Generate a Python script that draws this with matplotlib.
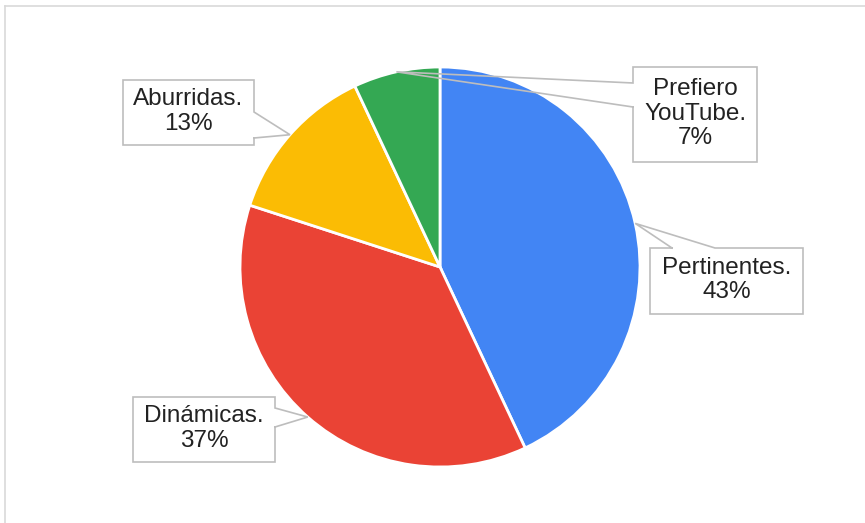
import numpy as np
import matplotlib
matplotlib.use("Agg")
import matplotlib.pyplot as plt
from matplotlib.patches import Rectangle

plt.rcParams['font.family'] = ['Liberation Sans', 'DejaVu Sans']

# Survey answers
categories = ['Pertinentes.', 'Dinámicas.', 'Aburridas.', 'Prefiero\nYouTube.']
values = [43, 37, 13, 7]
colors = ['#4285F4', '#EA4335', '#FBBC04', '#34A853']

W, H = 865, 523
fig = plt.figure(figsize=(W / 100, H / 100), dpi=100)
ax = fig.add_axes([0, 0, 1, 1])

cx, cy, R = 440, H - 267, 200
wedges, _ = ax.pie(values, colors=colors, startangle=90, counterclock=False,
                   center=(cx, cy), radius=R,
                   wedgeprops=dict(edgecolor='white', linewidth=2))
ax.set_xlim(0, W)
ax.set_ylim(0, H)
ax.set_aspect('equal')
ax.axis('off')

# label boxes in pixel coords (y down): box, side of pointer, pointer span
boxes = [
    ((650, 248, 803, 314), 'top', (672, 715)),
    ((133, 397, 275, 462), 'right', (408, 427)),
    ((123, 80, 254, 145), 'right', (112, 138)),
    ((633, 67, 757, 162), 'left', (83, 107)),
]

line_c = '#bdbdbd'
for w, val, lab, (box, side, (a, b)) in zip(wedges, values, categories, boxes):
    ang = np.deg2rad((w.theta1 + w.theta2) / 2)
    tip = (cx + R * np.cos(ang), H - (cy + R * np.sin(ang)))
    x0, y0, x1, y1 = box
    if side == 'top':
        pts = [(a, y0), tip, (b, y0), (x1, y0), (x1, y1), (x0, y1), (x0, y0), (a, y0)]
    elif side == 'right':
        pts = [(x1, b), (x1, y1), (x0, y1), (x0, y0), (x1, y0), (x1, a), tip, (x1, b)]
    else:
        pts = [(x0, b), (x0, y1), (x1, y1), (x1, y0), (x0, y0), (x0, a), tip, (x0, b)]
    xs = [p[0] for p in pts]
    ys = [H - p[1] for p in pts]
    ax.add_patch(Rectangle((x0, H - y1), x1 - x0, y1 - y0, facecolor='white',
                           edgecolor='none', zorder=3))
    ax.plot(xs, ys, color=line_c, linewidth=1.2, solid_joinstyle='miter',
            zorder=4)
    ax.text((x0 + x1) / 2, H - (y0 + y1) / 2 + 1, f'{lab}\n{val}%', ha='center',
            va='center', multialignment='center', fontsize=17.5, color='#222222',
            linespacing=1.15, zorder=5)

# outer frame
ax.plot([5, W], [H - 6, H - 6], color='#d9d9d9', linewidth=1.2, clip_on=False)
ax.plot([5, 5], [H - 6, 0], color='#d9d9d9', linewidth=1.2, clip_on=False)

fig.savefig('out.png', dpi=100, facecolor='white')
